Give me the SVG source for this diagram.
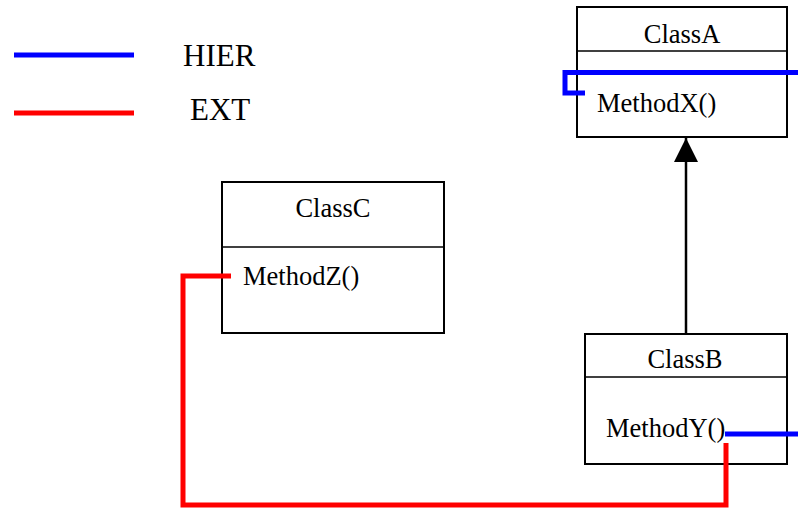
<svg xmlns="http://www.w3.org/2000/svg" width="798" height="508" viewBox="0 0 798 508">
<defs>
<style>
.box{fill:#fff;stroke:#000;stroke-width:2}
.div{stroke:#000;stroke-width:1.5}
.t{font-family:"Liberation Serif","Times New Roman",serif;font-size:26.5px;fill:#000}
.lg{font-family:"Liberation Serif","Times New Roman",serif;font-size:31px;fill:#000}
.hier{fill:none;stroke:#0000ff;stroke-width:5}
.ext{fill:none;stroke:#ff0000;stroke-width:5}
</style>
<marker id="tri" markerWidth="24" markerHeight="28" refX="24" refY="12" orient="auto" markerUnits="userSpaceOnUse">
<path d="M0,0 L24,12 L0,24 Z" fill="#000"/>
</marker>
</defs>
<rect width="798" height="508" fill="#fff"/>
<g id="legend">
<line x1="14" y1="55" x2="134" y2="55" class="hier"/>
<text x="183" y="66" class="lg">HIER</text>
<line x1="14" y1="113" x2="134" y2="113" class="ext"/>
<text x="190" y="120" class="lg">EXT</text>
</g>
<g id="ClassA">
<rect x="577" y="7" width="210" height="130" class="box"/>
<line x1="577" y1="51" x2="787" y2="51" class="div"/>
<text x="682" y="43" class="t" text-anchor="middle">ClassA</text>
<text x="597" y="112" class="t">MethodX()</text>
</g>
<g id="ClassB">
<rect x="585" y="334" width="202" height="130" class="box"/>
<line x1="585" y1="377" x2="787" y2="377" class="div"/>
<text x="685" y="368" class="t" text-anchor="middle">ClassB</text>
<text x="606" y="437" class="t">MethodY()</text>
</g>
<g id="ClassC">
<rect x="222" y="182" width="222" height="151" class="box"/>
<line x1="222" y1="247" x2="444" y2="247" class="div"/>
<text x="333" y="217" class="t" text-anchor="middle">ClassC</text>
<text x="243" y="285" class="t">MethodZ()</text>
</g>
<g id="connectors">
<line x1="686" y1="334" x2="686" y2="138" stroke="#000" stroke-width="2.5" marker-end="url(#tri)"/>
<polyline points="798,72.5 565,72.5 565,93 585,93" class="hier"/>
<line x1="725" y1="434" x2="798" y2="434" class="hier"/>
<polyline points="726,443 726,505 183,505 183,276 231,276" class="ext"/>
</g>
</svg>
